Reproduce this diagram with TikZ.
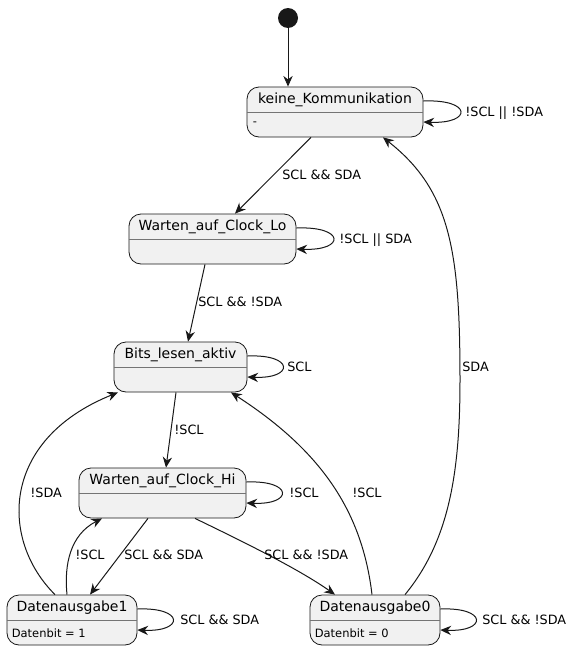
\documentclass[tikz,border=0pt]{standalone}
\usepackage{fontspec}
\setmainfont{DejaVu Sans}
\usetikzlibrary{arrows.meta}
\definecolor{stfill}{HTML}{F1F1F1}
\definecolor{stline}{HTML}{181818}
\begin{document}
\begin{tikzpicture}[x=0.75pt,y=-0.75pt,
 state/.style={draw=stline, fill=stfill, rounded corners=9pt, line width=0.6pt, minimum height=37.5pt, inner sep=0pt},
 title/.style={font=\fontsize{10.5}{12}\selectfont, inner sep=0pt, text=black},
 desc/.style={font=\fontsize{8.6}{10}\selectfont, inner sep=0pt, anchor=west},
 lbl/.style={font=\fontsize{9.6}{11}\selectfont, inner sep=0pt, text=black},
 edge/.style={draw=stline, line width=0.75pt, -{Stealth[length=8pt,width=7pt,inset=2.6pt]}},
 divl/.style={draw=stline!60, line width=0.6pt}
]
\useasboundingbox (0,0) rectangle (579,650);

% states
\node[circle, fill=stline, minimum size=15pt, inner sep=0pt] (init) at (288,18) {};
\node[state, minimum width=132pt] (k) at (335,112) {};
\node[state, minimum width=125.25pt] (lo) at (212.5,239) {};
\node[state, minimum width=99.75pt] (b) at (180.5,367) {};
\node[state, minimum width=125.25pt] (hi) at (162.5,493) {};
\node[state, minimum width=97.5pt] (d1) at (72,620) {};
\node[state, minimum width=97.5pt] (d0) at (375,620) {};

% dividers
\foreach \s in {k,lo,b,hi,d1,d0}{
  \draw[divl] ([yshift=-19.5pt]\s.north west) -- ([yshift=-19.5pt]\s.north east);
}

% titles
\node[title] (kt) at ([yshift=-9.9pt]k.north) {keine\_Kommunikation};
\node[title] (lot) at ([yshift=-9.9pt]lo.north) {Warten\_auf\_Clock\_Lo};
\node[title] (bt) at ([yshift=-9.9pt]b.north) {Bits\_lesen\_aktiv};
\node[title] (hit) at ([yshift=-9.9pt]hi.north) {Warten\_auf\_Clock\_Hi};
\node[title] (d1t) at ([yshift=-9.9pt]d1.north) {Datenausgabe1};
\node[title] (d0t) at ([yshift=-9.9pt]d0.north) {Datenausgabe0};

% descriptions
\node[desc] (kd) at ([xshift=4.5pt,yshift=-27.75pt]k.north west) {-};
\node[desc] (d1d) at ([xshift=3.75pt,yshift=-29.25pt]d1.north west) {Datenbit = 1};
\node[desc] (d0d) at ([xshift=3.75pt,yshift=-29.25pt]d0.north west) {Datenbit = 0};

% transitions
\draw[edge] (init) -- ([xshift=-35.25pt]k.north);
\draw[edge] ([xshift=-18pt]k.south) -- ([xshift=16.875pt]lo.north);
\draw[edge] ([xshift=-5.625pt]lo.south) -- ([xshift=5.625pt]b.north);
\draw[edge] ([xshift=-3.375pt]b.south) -- ([xshift=2.625pt]hi.north);
\draw[edge] ([xshift=-10.875pt]hi.south) -- ([xshift=13.5pt]d1.north);
\draw[edge] ([xshift=24.375pt]hi.south) .. controls (250,545) and (300,570) .. ([xshift=-30pt]d0.north);
\draw[edge] ([xshift=-12.75pt]d1.north) .. controls (0,540) and (0,440) .. ([xshift=-46.875pt]b.south);
\draw[edge] ([xshift=-3.75pt]d1.north) .. controls (64,565) and (70,535) .. ([xshift=-45.375pt]hi.south);
\draw[edge] ([xshift=-2.25pt]d0.north) .. controls (362,510) and (320,450) .. ([xshift=37.875pt]b.south);
\draw[edge] ([xshift=22.5pt]d0.north) .. controls (450,540) and (460,470) .. (460,380)
  .. controls (460,250) and (450,190) .. ([xshift=36pt]k.south);

% self loops
\draw[edge] ([yshift=8.25pt]k.east) .. controls +(49,-2) and +(49,2) .. ([yshift=-7.5pt]k.east);
\draw[edge] ([yshift=8.25pt]lo.east) .. controls +(49,-2) and +(49,2) .. ([yshift=-7.5pt]lo.east);
\draw[edge] ([yshift=8.25pt]b.east) .. controls +(47,-2) and +(47,2) .. ([yshift=-7.5pt]b.east);
\draw[edge] ([yshift=8.25pt]hi.east) .. controls +(47,-2) and +(47,2) .. ([yshift=-7.5pt]hi.east);
\draw[edge] ([yshift=8.25pt]d1.east) .. controls +(47,-2) and +(47,2) .. ([yshift=-7.5pt]d1.east);
\draw[edge] ([yshift=8.25pt]d0.east) .. controls +(47,-2) and +(47,2) .. ([yshift=-7.5pt]d0.east);

% labels
\node[lbl, anchor=west] (lk) at (465,113) {!SCL || !SDA};
\node[lbl, anchor=west] (llo) at (339,240) {!SCL || SDA};
\node[lbl, anchor=west] (lb) at (287,367) {SCL};
\node[lbl, anchor=west] (lhi) at (289,493) {!SCL};
\node[lbl, anchor=west] (ld1) at (180,620) {SCL \&\& SDA};
\node[lbl, anchor=west] (ld0) at (482,620) {SCL \&\& !SDA};
\node[lbl, anchor=west] (l1) at (282,175) {SCL \&\& SDA};
\node[lbl, anchor=west] (l2) at (198,302) {SCL \&\& !SDA};
\node[lbl, anchor=west] (l3) at (174,430) {!SCL};
\node[lbl, anchor=west] (l4) at (124,555) {SCL \&\& SDA};
\node[lbl, anchor=west] (l5) at (264,555) {SCL \&\& !SDA};
\node[lbl, anchor=west] (l6) at (30,493) {!SDA};
\node[lbl, anchor=west] (l7) at (75,555) {!SCL};
\node[lbl, anchor=west] (l8) at (352,493) {!SCL};
\node[lbl, anchor=west] (l9) at (462,367) {SDA};
\end{tikzpicture}
\end{document}
